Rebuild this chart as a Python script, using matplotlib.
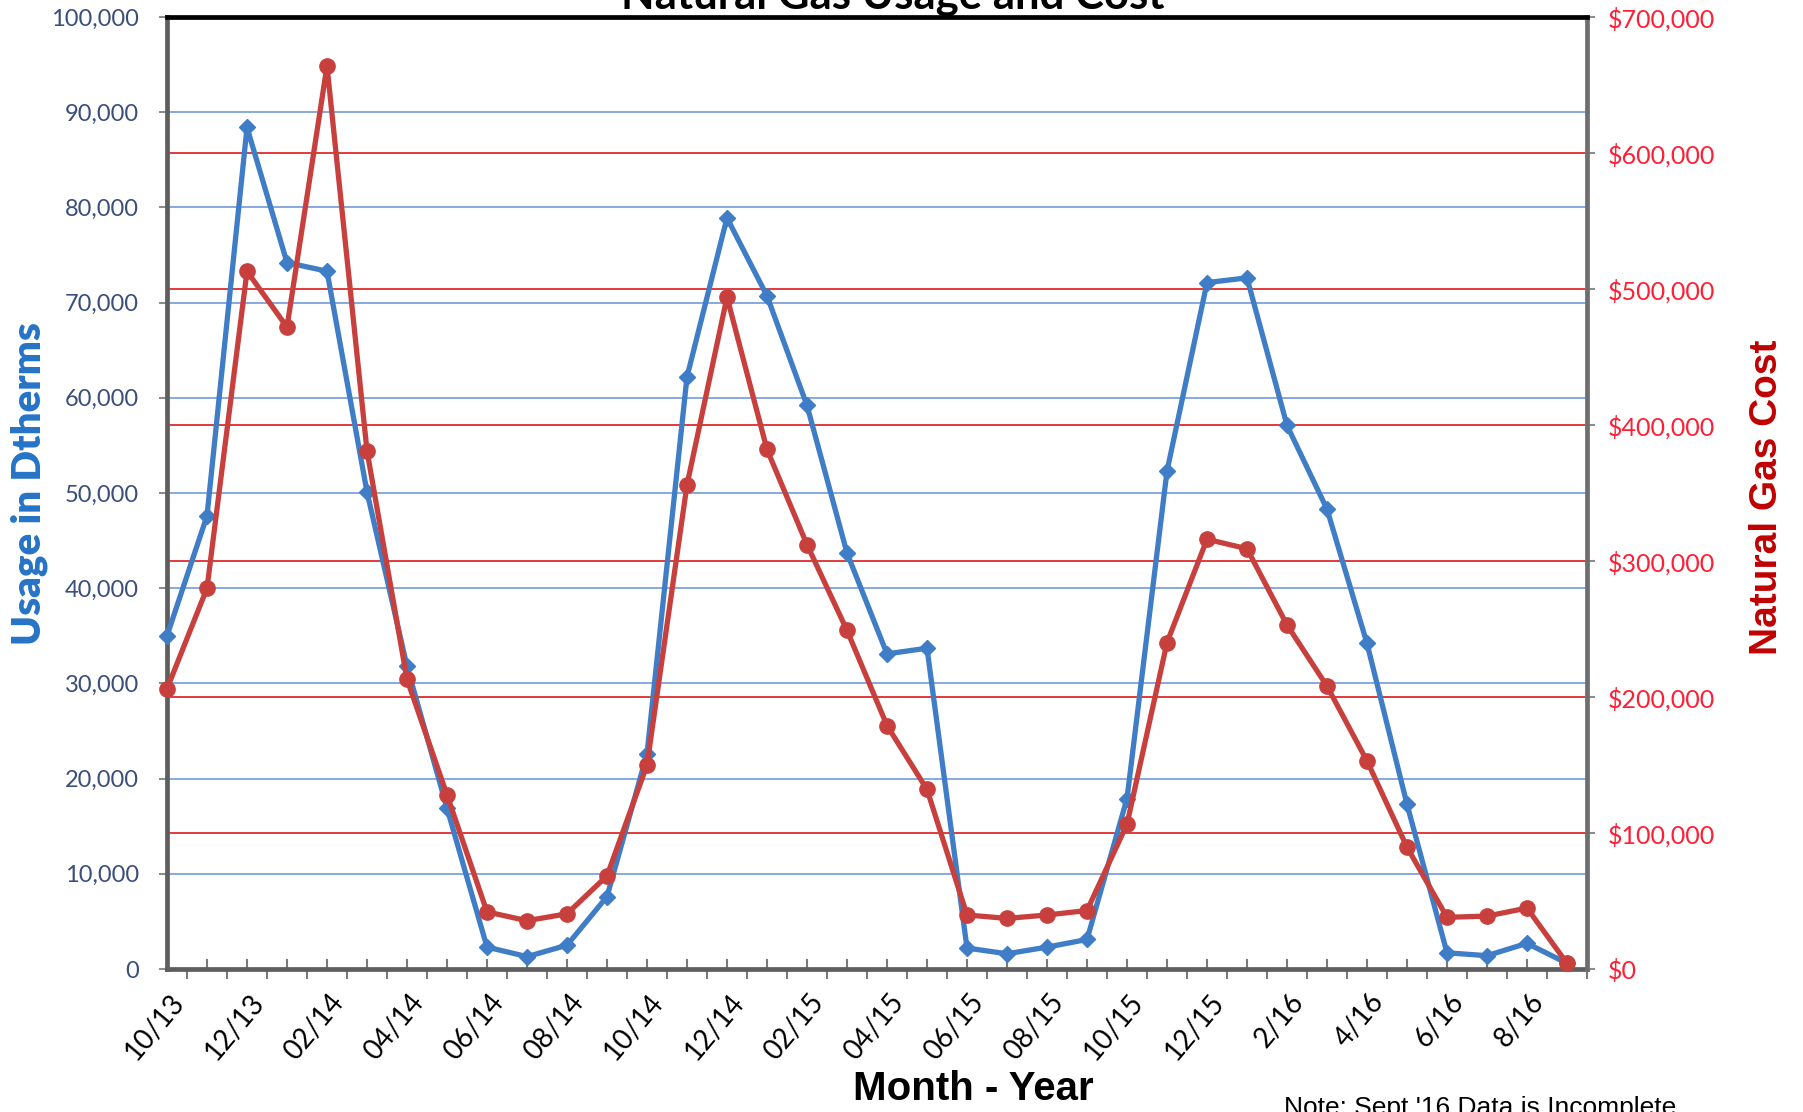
import matplotlib
matplotlib.use("Agg")
import matplotlib.pyplot as plt
import matplotlib.transforms as mtransforms
from matplotlib.ticker import FuncFormatter
import numpy as np

# ── Data ─────────────────────────────────────────────────────────────────────
months = [
    "10/13", "11/13", "12/13", "01/14", "02/14", "03/14", "04/14", "05/14",
    "06/14", "07/14", "08/14", "09/14", "10/14", "11/14", "12/14", "01/15",
    "02/15", "03/15", "04/15", "05/15", "06/15", "07/15", "08/15", "09/15",
    "10/15", "11/15", "12/15", "1/16", "2/16", "3/16", "4/16", "5/16",
    "6/16", "7/16", "8/16", "9/16",
]
usage_dth = [
    35000, 47600, 88400, 74200, 73300, 50100, 31800, 16900,
    2300, 1300, 2500, 7600, 22600, 62200, 78900, 70700,
    59200, 43700, 33100, 33700, 2200, 1600, 2300, 3100,
    17900, 52300, 72100, 72600, 57100, 48300, 34200, 17300,
    1700, 1400, 2700, 600,
]
cost_usd = [
    206000, 280000, 513000, 472000, 664000, 381000, 213000, 128000,
    42000, 35500, 40600, 68500, 150000, 356000, 494000, 382000,
    312000, 249000, 179000, 132000, 39700, 37200, 39700, 43000,
    106500, 240000, 316000, 309000, 253000, 208000, 153000, 89600,
    38000, 38900, 44800, 4200,
]

usage_ticks = list(range(0, 100001, 10000))
cost_ticks = list(range(0, 700001, 100000))

BLUE = "#3F7DC6"
RED = "#C8403D"
BLUE_GRID = "#86A9DF"
RED_GRID = "#E23B3B"

W, H = 1803, 1112
fig = plt.figure(figsize=(W / 100, H / 100), dpi=100, facecolor="white")

x0, x1, y_top, y_bot = 167, 1587, 17, 969
ax1 = fig.add_axes([x0 / W, 1 - y_bot / H, (x1 - x0) / W, (y_bot - y_top) / H])
ax2 = ax1.twinx()

x = np.arange(len(months))

ax1.set_xlim(0, len(months) - 0.5)
ax1.set_ylim(usage_ticks[0], usage_ticks[-1])
ax2.set_ylim(cost_ticks[0], cost_ticks[-1])

# grid: blue for usage, red for cost, both behind the series
for v in usage_ticks[1:-1]:
    ax1.axhline(v, color=BLUE_GRID, lw=1.4, zorder=0)
red_tf = mtransforms.blended_transform_factory(ax1.transAxes, ax2.transData)
for v in cost_ticks[1:-1]:
    ax1.plot([0, 1], [v, v], color=RED_GRID, lw=1.4, transform=red_tf, zorder=0)

ax1.plot(x, usage_dth, color=BLUE, lw=3.8, marker="D", ms=8,
         markeredgecolor=BLUE, zorder=3, clip_on=False)
ax2.plot(x, cost_usd, color=RED, lw=3.8, marker="o", ms=11,
         markeredgecolor=RED, zorder=3, clip_on=False)

# ── Axes styling ─────────────────────────────────────────────────────────────
tick_font = "Lato"
ax1.set_yticks(usage_ticks)
ax1.yaxis.set_major_formatter(FuncFormatter(lambda v, p: f"{int(v):,}"))
ax1.tick_params(axis="y", direction="out", length=6, width=1.5, color="#8C8C8C",
                labelsize=17, labelcolor="#3A4E7C", pad=14)
ax2.set_yticks(cost_ticks)
ax2.yaxis.set_major_formatter(FuncFormatter(lambda v, p: f"${int(v):,}"))
ax2.tick_params(axis="y", direction="out", length=6, width=1.5, color="#8C8C8C",
                labelsize=18, labelcolor="#FF1F35", pad=9)

ax1.set_xticks(x[1:])
ax1.set_xticks(np.arange(0.5, len(months)), minor=True)
ax1.tick_params(axis="x", which="major", direction="in", length=7, width=1.5,
                color="#7A7A7A", labelbottom=False)
ax1.tick_params(axis="x", which="minor", direction="out", length=7, width=1.5,
                color="#7A7A7A")

# month labels, every other month
for i in range(0, len(months), 2):
    ax1.annotate(months[i], xy=(i, 0), xycoords=("data", "axes fraction"),
                 xytext=(2, -20), textcoords="offset pixels",
                 rotation=50, ha="right", va="top", rotation_mode="anchor",
                 fontsize=20, family=tick_font, color="black")

for lab in ax1.get_yticklabels() + ax2.get_yticklabels():
    lab.set_family(tick_font)

for ax in (ax1, ax2):
    for s in ax.spines.values():
        s.set_visible(False)
ax1.spines["left"].set_visible(True)
ax1.spines["left"].set_color("#5E5E5E")
ax1.spines["left"].set_linewidth(3.4)
ax1.spines["bottom"].set_visible(True)
ax1.spines["bottom"].set_color("#5E5E5E")
ax1.spines["bottom"].set_linewidth(3.4)
ax2.spines["right"].set_visible(True)
ax2.spines["right"].set_color("#6E6E6E")
ax2.spines["right"].set_linewidth(3.4)
ax2.spines["top"].set_visible(True)
ax2.spines["top"].set_color("black")
ax2.spines["top"].set_linewidth(3.4)

# ── Labels ───────────────────────────────────────────────────────────────────
fig.text(29 / W, 1 - 484 / H, "Usage in Dtherms", rotation=90, ha="center",
         va="center", fontsize=29, fontweight="heavy", family=tick_font,
         color="#2673C6")
fig.text(1767 / W, 1 - 497 / H, "Natural Gas Cost", rotation=90, ha="center",
         va="center", fontsize=28, fontweight="bold", family="Liberation Sans",
         color="#C00000")
fig.text(973 / W, 1 - 1089 / H, "Month - Year", ha="center", va="center",
         fontsize=29, fontweight="bold", family="Liberation Sans", color="black")
fig.text(893 / W, 1 - 9 / H, "Natural Gas Usage and Cost", ha="center",
         va="baseline", fontsize=31.5, fontweight="bold", family=tick_font,
         color="black")
fig.text(1284 / W, 1 - 1096 / H, "Note: Sept '16 Data is Incomplete",
         ha="left", va="top", fontsize=19, family="Liberation Sans",
         color="black")

fig.savefig("out.png", dpi=100, facecolor="white")
